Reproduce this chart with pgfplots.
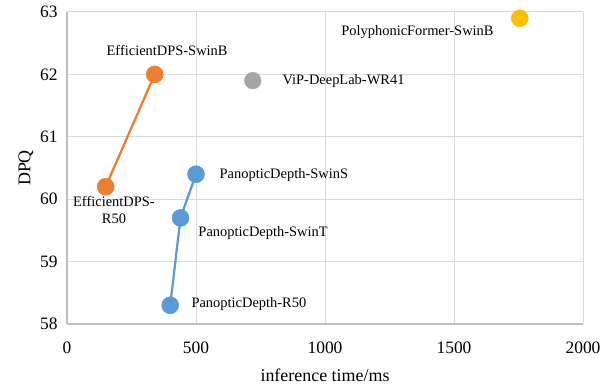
\documentclass[border=0pt]{standalone}
\usepackage{fontspec}
\setmainfont{Liberation Serif}
\usepackage{pgfplots}
\pgfplotsset{compat=1.18}
\definecolor{cOrange}{HTML}{ED7D31}
\definecolor{cBlue}{HTML}{5B9BD5}
\definecolor{cGray}{HTML}{A5A5A5}
\definecolor{cYellow}{HTML}{FFC000}
\definecolor{gridc}{HTML}{D9D9D9}
\definecolor{axc}{HTML}{BFBFBF}
\begin{document}
\begin{tikzpicture}
\begin{axis}[
  scale only axis, width=516bp, height=312bp,
  xmin=0, xmax=2000, ymin=58, ymax=63,
  xtick={0,500,1000,1500,2000}, ytick={58,59,60,61,62,63},
  grid=major, major grid style={gridc, line width=1bp},
  axis x line=bottom, axis y line=left,
  axis line style={axc, line width=1.5bp, -},
  major tick length=0pt,
  tick label style={font=\fontsize{17.5}{20}\selectfont, black},
  /pgf/number format/assume math mode=true,
  /pgf/number format/1000 sep={},
  yticklabel style={xshift=-6bp},
  xticklabel style={yshift=-14bp},
  xlabel={inference time/ms}, ylabel={DPQ},
  label style={font=\fontsize{18}{21}\selectfont},
  xlabel style={yshift=-9bp},
  clip=false,
  every node/.append style={inner sep=0pt},
]
\addplot[cOrange, line width=2.25bp, mark=*, mark size=8.5bp, mark options={solid, line width=0.5bp, draw=cOrange, fill=cOrange}] coordinates {(150,60.2) (340,62.0)};
\addplot[cBlue, line width=2.25bp, mark=*, mark size=8.5bp, mark options={solid, line width=0.5bp, draw=cBlue, fill=cBlue}] coordinates {(400,58.3) (440,59.7) (500,60.4)};
\addplot[cGray, only marks, mark=*, mark size=8.3bp, mark options={line width=0.5bp, draw=cGray, fill=cGray}] coordinates {(720,61.9)};
\addplot[cYellow, only marks, mark=*, mark size=8.5bp, mark options={line width=0.5bp, draw=cYellow, fill=cYellow}] coordinates {(1755,62.9)};
\begin{scope}[font=\fontsize{14.5}{17}\selectfont]
\node[anchor=center] at (axis cs:388,62.39) {EfficientDPS-SwinB};
\node[anchor=west] at (axis cs:822,61.89) {ViP-DeepLab-WR41};
\node[anchor=east] at (axis cs:1667,62.68) {PolyphonicFormer-SwinB};
\node[anchor=west] at (axis cs:578,60.39) {PanopticDepth-SwinS};
\node[anchor=west] at (axis cs:496,59.46) {PanopticDepth-SwinT};
\node[anchor=west] at (axis cs:469,58.32) {PanopticDepth-R50};
\node[anchor=center, align=center] at (axis cs:182,59.83) {EfficientDPS-\\R50};
\end{scope}
\end{axis}
\path (current axis.south west) ++(-67bp,-64bp) coordinate (bbA);
\path (current axis.north east) ++(29bp,12bp) coordinate (bbB);
\pgfresetboundingbox
\path[use as bounding box] (bbA) rectangle (bbB);
\end{tikzpicture}
\end{document}
